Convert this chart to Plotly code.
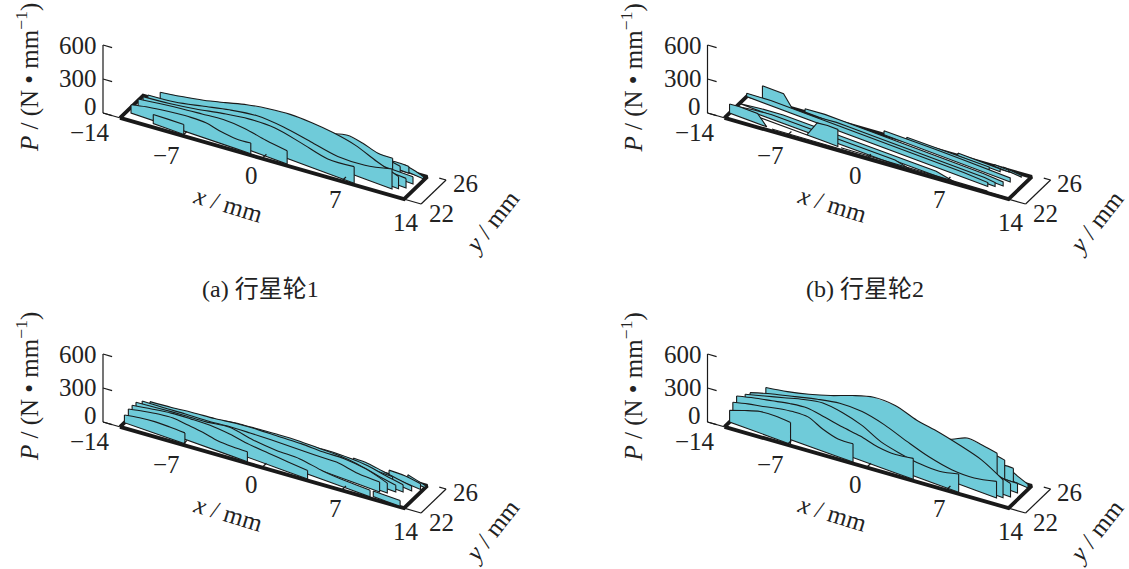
import plotly.graph_objects as go

# ---------- contact lines: start/end in (x, y) mm, listed back to front ----------
# panel (a)
a_x_start = [10.5, 9.2, 6.0, 1.5, -0.5, -7.45, -11.0, -12.0, -11.85, -11.9, -12.1, -9.85]
a_y_start = [25.7, 25.7, 25.7, 25.7, 25.7, 25.7, 25.7, 25.54, 24.5, 23.8, 23.03, 22.5]
a_x_end = [12.4, 11.0, 10.4, 9.9, 12.04, 11.85, 11.4, 10.97, 8.0, 2.1, -1.1, -7.0]
a_y_end = [25.3, 25.5, 25.2, 24.9, 24.27, 23.5, 23.12, 22.86, 22.2, 22.2, 22.2, 22.2]
a_P = [
    [50, 40, 20],
    [50, 60, 60],
    [60, 80, 85, 75, 60],
    [60, 110, 160, 194, 173, 132, 132],
    [176, 165, 138, 112, 85, 59, 62, 65],
    [97, 150, 191, 223, 235, 223, 185, 150, 115, 91, 85],
    [74, 106, 144, 194, 247, 282, 303, 300, 282, 244, 170, 109],
    [29, 56, 109, 165, 203, 191, 150, 109, 121, 176],
    [74, 100, 138, 185, 223, 229, 182, 129, 147],
    [88, 118, 144, 165, 185, 176, 141, 118],
    [73, 100, 118, 132, 141, 138, 106, 88, 94],
    [80, 85, 88],
]

# panel (b)
b_x_start = [10.0, 9.2, 6.0, 1.5, -0.5, -7.45, -11.2, -12.5, -12.5, -12.5, -12.5, -2.5, -8.5, -12.5]
b_y_start = [25.7, 25.7, 25.7, 25.7, 25.7, 25.7, 25.7, 25.54, 24.39, 23.93, 23.6, 22.45, 22.3, 22.8]
b_x_end = [11.8, 10.6, 10.0, 9.2, 11.4, 11.2, 10.7, 10.2, 8.0, 4.0, -2.8, 10.5, 12.0, -9.0]
b_y_end = [25.3, 25.5, 25.2, 24.9, 24.27, 23.5, 23.12, 22.86, 22.1, 22.1, 22.5, 22.25, 22.12, 22.4]
b_P = [
    [15, 15, 15],
    [15, 15, 15],
    [25, 25, 25],
    [35, 35, 35, 35],
    [35, 40, 40, 40, 40, 35],
    [30, 45, 45, 45, 45, 45, 45, 45, 45, 45, 35],
    [124, 124, 124, 0, 15, 25, 35, 45, 45, 45, 45, 45, 45, 45, 45, 45, 45, 45, 45, 45, 45, 45, 35],
    [30, 45, 45, 45, 45, 45, 45, 45, 45, 45, 35],
    [0, 25, 40, 40, 40, 40, 40, 40, 40, 40, 0],
    [0, 25, 40, 40, 40, 40, 40, 40, 40, 40, 0],
    [0, 0, 0, 0, 0, 0, 0, 0, 140, 150, 150],
    [0, 0, 0],
    [0, 0, 0],
    [80, 88, 88, 88, 0],
]

# panel (c)
c_x_start = [10.8, 9.2, 6.0, 1.5, -0.5, -7.45, -11.9, -12.5, -12.5, -12.5, -12.5, -12.5, 9.6]
c_y_start = [25.7, 25.6, 25.7, 25.7, 25.7, 25.7, 25.7, 25.54, 24.55, 23.93, 23.33, 22.7, 22.35]
c_x_end = [12.5, 12.3, 11.8, 9.9, 11.3, 10.8, 10.3, 9.7, 9.4, 3.9, -1.4, -6.9, 12.1]
c_y_end = [25.4, 25.0, 24.49, 24.9, 24.03, 23.77, 23.32, 23.18, 22.2, 22.2, 22.2, 22.2, 22.1]
c_P = [
    [50, 35, 20],
    [50, 60, 50],
    [60, 70, 60, 50, 44],
    [40, 60, 70, 75, 60, 50, 50],
    [30, 60, 90, 110, 115, 110, 85, 65],
    [40, 70, 100, 115, 130, 140, 140, 140, 125, 90, 59],
    [44, 62, 85, 103, 129, 144, 150, 159, 156, 165, 144, 88],
    [40, 50, 65, 75, 95, 105, 112, 115, 118, 125, 94, 88],
    [82, 103, 121, 135, 162, 126, 109, 109, 76, 62, 59],
    [88, 118, 144, 156, 162, 147, 118, 103, 88, 74],
    [88, 115, 138, 150, 135, 118, 91, 85, 88],
    [68, 90, 103, 102, 97],
    [50, 50, 50],
]

# panel (d)
d_x_start = [10.5, 9.2, 6.0, 1.5, -0.5, -7.45, -10.9, -12.2, -12.0, -12.5, -12.5, -12.5]
d_y_start = [25.7, 25.7, 25.7, 25.7, 25.7, 25.7, 25.7, 25.54, 24.39, 23.93, 23.33, 22.81]
d_x_end = [12.4, 11.0, 10.4, 9.9, 12.04, 11.85, 11.4, 10.97, 8.0, 4.0, -1.3, -6.8]
d_y_end = [25.3, 25.5, 25.2, 24.9, 24.27, 23.5, 23.12, 22.86, 22.2, 22.2, 22.2, 22.2]
d_P = [
    [100, 60, 33],
    [100, 120, 124],
    [100, 170, 200, 210, 194],
    [80, 150, 200, 238, 296, 282, 256],
    [212, 200, 173, 147, 120, 109, 82, 85],
    [220, 273, 309, 362, 382, 332, 282, 244, 218, 170, 120],
    [197, 232, 279, 338, 409, 464, 462, 403, 370, 323, 265, 159],
    [123, 185, 235, 285, 323, 323, 279, 206, 141, 103, 103, 147],
    [176, 223, 270, 318, 350, 329, 279, 194, 153, 126, 123, 162],
    [170, 209, 241, 273, 291, 265, 235, 212, 173, 162, 185],
    [147, 180, 205, 235, 255, 256, 194, 156, 162],
    [103, 150, 190, 200, 192],
]

edge_x = [-12.5, 12.5, 12.5, -12.5, -12.5]
edge_y = [22.0, 22.0, 25.7, 25.7, 22.0]
P_ticks = [0, 300, 600]
P_tick_labels = ["0", "300", "600"]
x_ticks = [-14, -7, 0, 7, 14]
x_tick_labels = ["\u221214", "\u22127", "0", "7", "14"]
y_ticks = [22, 26]
y_tick_labels = ["22", "26"]
titles = ["(a) 行星轮1", "(b) 行星轮2", "", ""]

CYAN = "#6FCBD9"
BLACK = "#1a1a1a"
SERIF = "Liberation Serif, Noto Sans CJK SC"
W, H = 1129, 569


def project(x, y, P, ox, oy):
    """Oblique projection of the (x, y, P) axes into the figure's pixel space."""
    return (
        ox + 103 + 11.36 * (x + 14) + 6.25 * (y - 22),
        oy + 113 + 3.25 * (x + 14) - 6.0 * (y - 22) - 0.1133 * P,
    )


fig = go.Figure()


def path(xs, ys, Ps, ox, oy, width, color=BLACK, fill=None, spline=False):
    px, py = zip(*[project(a, b, c, ox, oy) for a, b, c in zip(xs, ys, Ps)])
    line = dict(color=color, width=width)
    if spline:
        line.update(shape="spline", smoothing=0.9)
    fig.add_trace(go.Scatter(
        x=list(px), y=list(py), mode="lines", hoverinfo="skip", showlegend=False,
        line=line, fill="toself" if fill else "none", fillcolor=fill,
    ))


def text(sx, sy, s, size=25, angle=0):
    fig.add_annotation(
        xref="x", yref="y", x=sx, y=sy, text=s, showarrow=False, textangle=angle,
        font=dict(family=SERIF, size=size, color="#222222"),
    )


def panel(xs, ys, xe, ye, Ps, ox, oy, title, smooth=True):
    # zero-load outline of the loaded zone
    path(edge_x, edge_y, [0] * 5, ox, oy, 3.8)
    # contact lines, drawn back to front
    for x0, y0, x1, y1, P in zip(xs, ys, xe, ye, Ps):
        n = len(P) - 1
        lx = [x0 + (x1 - x0) * i / n for i in range(n + 1)]
        ly = [y0 + (y1 - y0) * i / n for i in range(n + 1)]
        rx = lx + lx[::-1] + lx[:1]
        ry = ly + ly[::-1] + ly[:1]
        rp = list(P) + [0] * (n + 1) + P[:1]
        if smooth:
            path(rx, ry, rp, ox, oy, 0, fill=CYAN)
            path(lx, ly, P, ox, oy, 1.1, spline=True)
            path(lx[-1:] + lx[::-1] + lx[:1], ly[-1:] + ly[::-1] + ly[:1],
                 P[-1:] + [0] * (n + 1) + P[:1], ox, oy, 1.1)
        else:
            path(rx, ry, rp, ox, oy, 1.1, fill=CYAN)
    # axes
    path([-14, -14], [22, 22], [0, 600], ox, oy, 1.2)
    for t in P_ticks:
        path([-14, -13.2], [22, 22], [t, t], ox, oy, 1.2)
    path([-14, 14], [22, 22], [0, 0], ox, oy, 1.2)
    path([14, 14], [22, 26], [0, 0], ox, oy, 1.2)
    path([13.4, 14], [26, 26], [0, 0], ox, oy, 1.2)
    for t in x_ticks[1:-1]:
        path([t, t], [22, 22.7], [0, 0], ox, oy, 1.2)
    # labels
    for lab, lx, ly in zip(P_tick_labels, (90, 78, 78), (106, 78, 45)):
        text(ox + lx, oy + ly, lab)
    for lab, lx, ly in zip(x_tick_labels, (90, 166, 251, 335, 406), (132, 155, 175, 199, 222)):
        text(ox + lx, oy + ly, lab)
    for lab, lx, ly in zip(y_tick_labels, (441, 465), (213, 183)):
        text(ox + lx, oy + ly, lab)
    text(ox + 27, oy + 78, "<i>P</i> / (N \u2022 mm<sup>\u22121</sup>)", angle=-90)
    text(ox + 228, oy + 204, "<i>x</i> / mm", angle=17)
    text(ox + 491, oy + 222, "<i>y</i> / mm", angle=-52)
    if title:
        text(ox + 260, oy + 289, title, size=24)


OFF_X, OFF_Y = 604.5, 309
panel(a_x_start, a_y_start, a_x_end, a_y_end, a_P, 0, 0, titles[0])
panel(b_x_start, b_y_start, b_x_end, b_y_end, b_P, OFF_X, 0, titles[1], smooth=False)
panel(c_x_start, c_y_start, c_x_end, c_y_end, c_P, 0, OFF_Y, titles[2])
panel(d_x_start, d_y_start, d_x_end, d_y_end, d_P, OFF_X, OFF_Y, titles[3])

fig.update_layout(
    width=W, height=H, margin=dict(l=0, r=0, t=0, b=0),
    paper_bgcolor="white", plot_bgcolor="white", showlegend=False,
    xaxis=dict(range=[0, W], visible=False, fixedrange=True),
    yaxis=dict(range=[H, 0], visible=False, fixedrange=True),
)
fig.write_html("out.html", post_script="document.body.style.margin='0';",
               config={"displayModeBar": False})
